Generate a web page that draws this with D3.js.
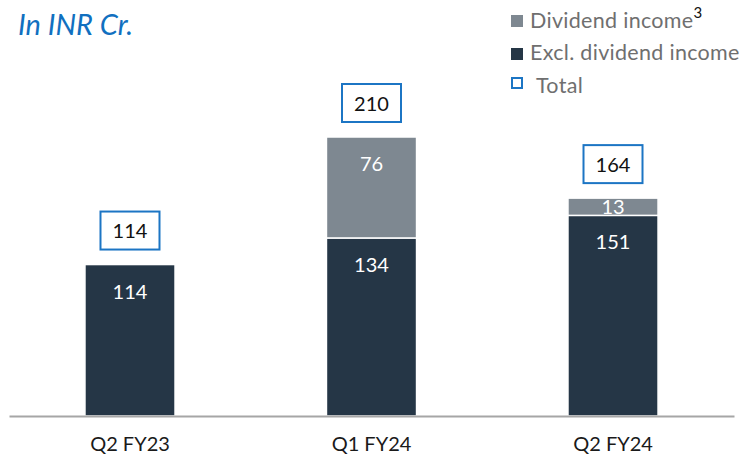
<!DOCTYPE html>
<html>
<head>
<meta charset="utf-8">
<script src="https://cdn.jsdelivr.net/npm/d3@7"></script>
<style>
  html, body { margin: 0; padding: 0; background: #fff; }
  svg { display: block; font-family: Lato, "Open Sans", sans-serif; }
</style>
</head>
<body>
<div id="chart"></div>
<script>
(function() {
	'use strict';

	// Data (INR Cr.)
	const categories = ['Q2 FY23', 'Q1 FY24', 'Q2 FY24'];
	const exclDividend = [114, 134, 151];
	const dividend = [0, 76, 13];
	const totals = [114, 210, 164];
	const seriesNames = ['Excl. dividend income', 'Dividend income'];

	const width = 743;
	const height = 456;
	const colors = { excl: '#253646', div: '#7e8891', total: '#1c75c4' };

	const svg = d3.select('#chart')
		.append('svg')
		.attr('width', width)
		.attr('height', height);

	// Scales
	const x = d3.scaleBand()
		.domain(categories)
		.range([9, 734])
		.paddingInner(0.627)
		.paddingOuter(0.3145);

	const y = d3.scaleLinear()
		.domain([0, 210])
		.range([416, 137]);

	// Stack the two series
	const rows = categories.map((c, i) => ({ cat: c, excl: exclDividend[i], div: dividend[i] }));
	const stack = d3.stack().keys(['excl', 'div'])(rows);

	const layers = svg.append('g')
		.selectAll('g')
		.data(stack)
		.join('g')
		.attr('fill', d => d.key === 'excl' ? colors.excl : colors.div);

	layers.selectAll('rect')
		.data(d => d.filter(s => s[1] > s[0]))
		.join('rect')
		.attr('x', d => x(d.data.cat))
		.attr('width', x.bandwidth())
		.attr('y', d => y(d[1]))
		.attr('height', d => y(d[0]) - y(d[1]))
		.attr('stroke', '#fff')
		.attr('stroke-width', 1.5);

	// Segment labels (inside end)
	layers.selectAll('text')
		.data(d => d.filter(s => s[1] > s[0]))
		.join('text')
		.attr('x', d => x(d.data.cat) + x.bandwidth() / 2)
		.attr('y', d => {
			const top = y(d[1]);
			const h = y(d[0]) - top;
			return top + Math.min(34, h / 2 + 7.5);
		})
		.attr('text-anchor', 'middle')
		.attr('fill', '#fff')
		.attr('font-size', 20)
		.text(d => d[1] - d[0]);

	// Axis baseline
	const axis = svg.append('g')
		.attr('transform', `translate(0,${y(0)})`)
		.call(d3.axisBottom(x).tickSize(0).tickPadding(28));
	axis.select('.domain')
		.attr('stroke', '#a6a6a6')
		.attr('stroke-width', 2);
	axis.selectAll('text')
		.attr('font-family', 'Lato, sans-serif')
		.attr('font-size', 20)
		.attr('fill', '#1a1a1a')
		.attr('dy', 0)
		.attr('y', 35);

	// Total boxes
	const boxW = 59, boxH = 38, gap = 15;
	const totalG = svg.append('g')
		.selectAll('g')
		.data(categories)
		.join('g')
		.attr('transform', (c, i) => `translate(${x(c) + x.bandwidth() / 2},${y(totals[i]) - gap - boxH})`);

	totalG.append('rect')
		.attr('x', -boxW / 2)
		.attr('width', boxW)
		.attr('height', boxH)
		.attr('fill', '#fff')
		.attr('stroke', colors.total)
		.attr('stroke-width', 2);

	totalG.append('text')
		.attr('y', 26.5)
		.attr('text-anchor', 'middle')
		.attr('font-size', 20)
		.attr('fill', '#111')
		.text((c, i) => totals[i]);

	// Title
	svg.append('text')
		.attr('x', 18)
		.attr('y', 35)
		.attr('font-size', 29)
		.attr('font-style', 'italic')
		.attr('fill', '#1170c0')
		.text('In INR Cr.');

	// Legend
	const legend = svg.append('g')
		.attr('font-size', 21.5)
		.attr('letter-spacing', 0.3)
		.attr('fill', '#6f6f6f');

	legend.append('rect').attr('x', 511).attr('y', 15).attr('width', 12).attr('height', 12).attr('fill', colors.div);
	const l1 = legend.append('text').attr('x', 530).attr('y', 28).text(seriesNames[1]);
	l1.append('tspan')
		.attr('dy', -10)
		.attr('font-size', 15)
		.attr('fill', '#111')
		.text('3');

	legend.append('rect').attr('x', 511).attr('y', 48).attr('width', 12).attr('height', 12).attr('fill', colors.excl);
	legend.append('text').attr('x', 530).attr('y', 60).text(seriesNames[0]);

	legend.append('rect').attr('x', 512).attr('y', 78).attr('width', 10).attr('height', 10)
		.attr('fill', '#fff').attr('stroke', colors.total).attr('stroke-width', 2);
	legend.append('text').attr('x', 536).attr('y', 93).text('Total');
})();
</script>
</body>
</html>
